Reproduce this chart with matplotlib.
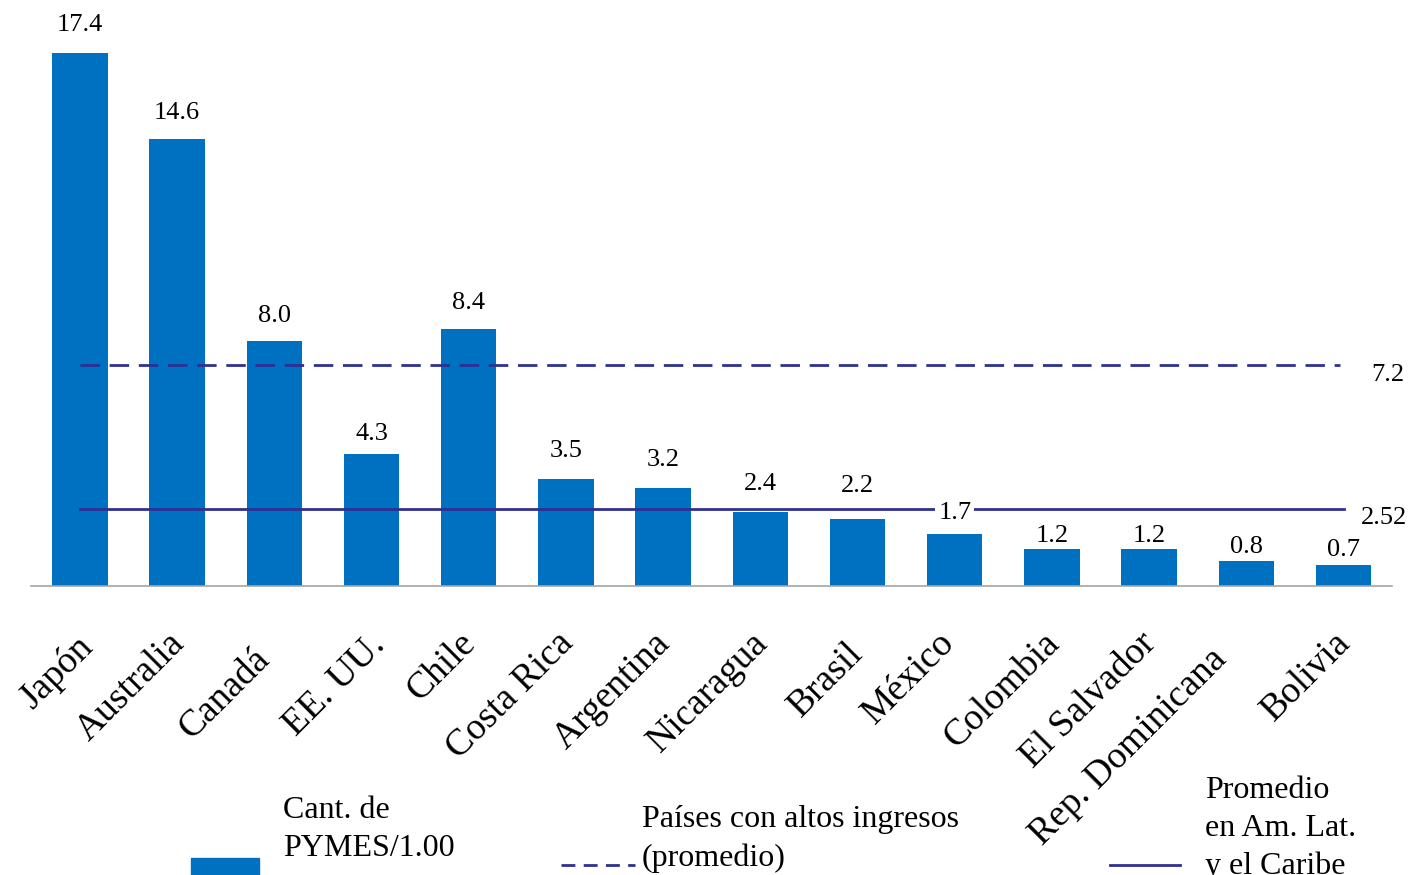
import matplotlib
matplotlib.use("Agg")
import matplotlib.pyplot as plt
import matplotlib.transforms as mtransforms
from matplotlib.lines import Line2D
from matplotlib.patches import Rectangle

countries = ["Japón", "Australia", "Canadá", "EE. UU.", "Chile", "Costa Rica",
             "Argentina", "Nicaragua", "Brasil", "México", "Colombia",
             "El Salvador", "Rep. Dominicana", "Bolivia"]
pymes = [17.4, 14.6, 8.0, 4.3, 8.4, 3.5, 3.2, 2.4, 2.2, 1.7, 1.2, 1.2, 0.8, 0.7]
high_income_avg = 7.2
latam_avg = 2.52
legend_labels = ["Cant. de\nPYMES/1.00", "Países con altos ingresos\n(promedio)",
                 "Promedio\nen Am. Lat.\ny el Caribe"]

# layout tweaks: gap (points) between bar top and value-label baseline
label_gap_pt = [16, 14, 14, 10, 14, 16, 16, 16, 19, 11, 5, 5, 6, 6]
# layout tweaks: per-category label nudges in pixels (dx right, dy down)
tick_nudge_px = [(8, 6), (2, 2), (-10, 18), (8, 4), (2, 2), (2, 2), (2, 2),
                 (2, 2), (0, 12), (-6, 2), (2, 2), (2, 2), (-25, 18), (2, 2)]

W, H = 1414, 875
plt.rcParams['font.family'] = ['Liberation Serif', 'DejaVu Serif']
fig = plt.figure(figsize=(W / 100, H / 100), dpi=100)

BLUE = "#0070C0"
NAVY = "#2E3192"

ax_left, ax_right = 31 / W, 1392 / W
ax_bottom = (H - 586) / H
ax = fig.add_axes([ax_left, ax_bottom, ax_right - ax_left, 1 - ax_bottom])
x = list(range(len(countries)))
ax.bar(x, pymes, width=0.57, color=BLUE, zorder=2)
ax.set_xlim(-0.504, 13.498)
ax.set_ylim(0, 586 / 30.63)

for s in ["top", "right", "left"]:
    ax.spines[s].set_visible(False)
ax.spines["bottom"].set_color("#A6A6A6")
ax.spines["bottom"].set_linewidth(1.2)
ax.set_yticks([])
ax.set_xticks([])

# category labels (rotated)
base = mtransforms.blended_transform_factory(ax.transData, ax.transAxes)
for xi, name, (dx, dy) in zip(x, countries, tick_nudge_px):
    off = mtransforms.ScaledTranslation(dx / 100, -(44 + 6 + dy) / 100,
                                        fig.dpi_scale_trans)
    ax.text(xi, 0, name, transform=base + off, rotation=45, ha="right",
            va="center", rotation_mode="anchor", fontsize=27, clip_on=False)

# average lines
ax.plot([0, 12.96], [high_income_avg] * 2, color=NAVY, lw=2.0,
        dashes=(7, 3.5), zorder=3)
ax.plot([0, 13.0], [latam_avg] * 2, color=NAVY, lw=2.0, zorder=3)
ax.text(13.28, high_income_avg + 0.05, f"{high_income_avg:.1f}", fontsize=19,
        va="top", ha="left")
ax.text(13.18, latam_avg + 0.05, f"{latam_avg:.2f}", fontsize=19,
        va="top", ha="left")

for xi, v, g in zip(x, pymes, label_gap_pt):
    t = ax.annotate(f"{v:.1f}", (xi, v), xytext=(0, g), textcoords="offset points",
                    ha="center", va="baseline", fontsize=19, zorder=5)
    if abs(v - 1.7) < 1e-9:
        t.set_bbox(dict(facecolor="white", edgecolor="none", pad=2))

# legend drawn manually (bottom part cropped as in the original)
def fx(px):
    return px / W

def fy(py):
    return 1 - py / H

fig.patches.append(Rectangle((fx(191), fy(875)), (259 - 191) / W, (875 - 858) / H,
                             transform=fig.transFigure, color=BLUE))
fig.lines.append(Line2D([fx(561), fx(635)], [fy(865), fy(865)],
                        transform=fig.transFigure, color=NAVY, lw=2.0,
                        dashes=(5, 3)))
fig.lines.append(Line2D([fx(1110), fx(1180)], [fy(865), fy(865)],
                        transform=fig.transFigure, color=NAVY, lw=2.0))

leg_pos = [(283, 810), (642, 820), (1205, 790)]
for (px, py), lab in zip(leg_pos, legend_labels):
    for k, line in enumerate(lab.split("\n")):
        fig.text(fx(px), fy(py + 38 * k), line, fontsize=23, ha="left", va="center")

fig.savefig("out.png", dpi=100)
